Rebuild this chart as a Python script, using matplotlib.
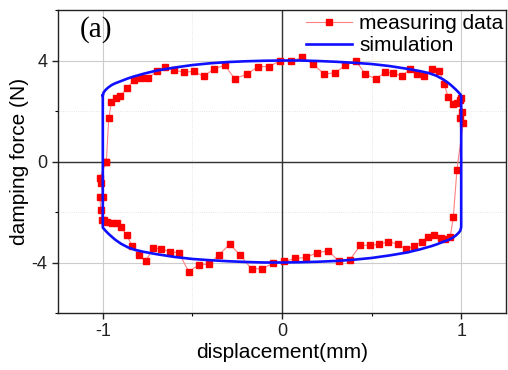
import matplotlib
matplotlib.use("Agg")
import matplotlib.pyplot as plt
from matplotlib.lines import Line2D
from matplotlib.ticker import MultipleLocator

plt.rcParams['font.family'] = ['Liberation Sans', 'DejaVu Sans']

meas_x = [-0.98, -0.967, -0.952, -0.925, -0.902, -0.863, -0.826, -0.789, -0.746, -0.70,
          -0.652, -0.60, -0.548, -0.493, -0.437, -0.378, -0.318, -0.265, -0.198, -0.133,
          -0.072, -0.013, 0.05, 0.113, 0.174, 0.237, 0.298, 0.354, 0.413, 0.465,
          0.524, 0.576, 0.622, 0.668, 0.715, 0.756, 0.794, 0.835, 0.878, 0.904,
          0.929, 0.956, 0.976, 0.993, 0.998, 1.006, 0.993, 1.011, 0.976, 0.956,
          0.939, 0.909, 0.885, 0.85, 0.817, 0.779, 0.737, 0.693, 0.646, 0.594,
          0.543, 0.489, 0.437, 0.378, 0.317, 0.257, 0.196, 0.135, 0.072, 0.013,
          -0.05, -0.109, -0.17, -0.233, -0.292, -0.354, -0.409, -0.465, -0.52, -0.576,
          -0.626, -0.674, -0.718, -0.761, -0.80, -0.835, -0.867, -0.896, -0.921, -0.951,
          -0.979, -0.994, -1.004, -1.011, -1.017, -0.998, -1.01, -1.017, -0.98]
meas_f = [0.0, 1.71, 2.35, 2.53, 2.60, 2.91, 3.24, 3.32, 3.30, 3.58,
          3.76, 3.61, 3.54, 3.57, 3.37, 3.68, 3.81, 3.28, 3.45, 3.76,
          3.76, 3.98, 3.98, 4.12, 3.85, 3.46, 3.52, 3.81, 3.98, 3.46,
          3.27, 3.54, 3.49, 3.39, 3.65, 3.46, 3.39, 3.65, 3.60, 3.06,
          2.54, 2.27, 2.30, 2.43, 2.50, 1.97, 1.71, 1.54, -0.35, -2.20,
          -2.98, -3.08, -3.02, -2.91, -2.98, -3.17, -3.35, -3.48, -3.28, -3.17,
          -3.28, -3.32, -3.32, -3.90, -3.94, -3.54, -3.61, -3.80, -3.84, -3.96,
          -4.03, -4.24, -4.26, -3.70, -3.28, -3.71, -4.07, -4.09, -4.37, -3.61,
          -3.58, -3.45, -3.44, -3.94, -3.70, -3.35, -2.93, -2.60, -2.43, -2.43,
          -2.39, -2.30, -2.32, -1.93, -1.40, -1.40, -0.85, -0.66, 0.0]

# simulated loop: upper branch left->right, lower branch right->left
sim_x = [-1.0, -0.995, -0.985, -0.97, -0.95, -0.93, -0.9, -0.86, -0.83, -0.77,
         -0.7, -0.6, -0.5, -0.4, -0.3, -0.2, -0.1, 0.0, 0.1, 0.2,
         0.3, 0.4, 0.5, 0.6, 0.7, 0.77, 0.82, 0.86, 0.9, 0.93,
         0.95, 0.97, 0.985, 0.995, 1.0,
         1.0, 0.995, 0.985, 0.97, 0.95, 0.93, 0.9, 0.86, 0.83, 0.77,
         0.7, 0.6, 0.5, 0.4, 0.3, 0.2, 0.1, 0.0, -0.1, -0.2,
         -0.3, -0.4, -0.5, -0.6, -0.7, -0.77, -0.82, -0.86, -0.9, -0.93,
         -0.95, -0.97, -0.985, -0.995, -1.0, -1.0]
sim_f = [2.62, 2.74, 2.83, 2.93, 3.03, 3.10, 3.18, 3.29, 3.36, 3.48,
         3.60, 3.72, 3.82, 3.89, 3.94, 3.97, 3.99, 4.0, 4.0, 3.98,
         3.95, 3.91, 3.86, 3.78, 3.67, 3.58, 3.50, 3.40, 3.25, 3.10,
         2.98, 2.85, 2.74, 2.66, 2.6,
         -2.6, -2.74, -2.83, -2.93, -3.03, -3.10, -3.18, -3.29, -3.36, -3.48,
         -3.60, -3.72, -3.82, -3.89, -3.94, -3.97, -3.99, -4.0, -4.0, -3.98,
         -3.95, -3.91, -3.86, -3.78, -3.67, -3.58, -3.50, -3.40, -3.25, -3.10,
         -2.98, -2.85, -2.74, -2.66, -2.62, 2.62]

fig = plt.figure(figsize=(5.08, 3.70), dpi=100)
ax = fig.add_axes([58 / 508, 1 - 313 / 370, 448 / 508, 303 / 370])

ax.set_xlim(-1.25, 1.25)
ax.set_ylim(-6, 6)
ax.xaxis.set_major_locator(MultipleLocator(1))
ax.xaxis.set_minor_locator(MultipleLocator(0.5))
ax.yaxis.set_major_locator(MultipleLocator(4))
ax.yaxis.set_minor_locator(MultipleLocator(2))

ax.grid(which='major', color='#cccccc', lw=0.8)
ax.grid(which='minor', color='#dddddd', lw=0.6, ls=':')
ax.axhline(0, color='#333333', lw=1.0, zorder=1)
ax.axvline(0, color='#333333', lw=1.0, zorder=1)
ax.set_axisbelow(True)

ax.plot(meas_x, meas_f, color='#ff8080', lw=0.8, marker='s', ms=4.2,
        mfc='#ff0000', mec='#ff0000', zorder=3)
ax.plot(sim_x, sim_f, color='#1010ff', lw=1.9, zorder=4)

for s in ax.spines.values():
    s.set_color('#222222')
    s.set_linewidth(1.0)
ax.tick_params(which='major', direction='out', length=4, width=1, labelsize=13, colors='#222222')
ax.tick_params(which='minor', direction='out', length=2.5, width=0.8)
ax.set_xticks([-1, 0, 1])
ax.set_xticklabels(['-1', '0', '1'])
ax.set_yticks([-4, 0, 4])
ax.set_yticklabels(['-4', '0', '4'])

ax.set_xlabel('displacement(mm)', fontsize=15, labelpad=2)
ax.set_ylabel('damping force (N)', fontsize=15, labelpad=2)

fig.text(80 / 508, 1 - 30 / 370, '(a)', family=['Liberation Serif', 'DejaVu Serif'],
         fontsize=21, ha='left', va='center')

handles = [Line2D([], [], color='#ff8080', lw=0.8, marker='s', ms=4.2,
                  mfc='#ff0000', mec='#ff0000'),
           Line2D([], [], color='#1010ff', lw=1.9)]
fig.legend(handles, ['measuring data', 'simulation'], loc='upper left',
           bbox_to_anchor=(306 / 508, 1 - 14 / 370), bbox_transform=fig.transFigure,
           frameon=False, fontsize=15, numpoints=1, handlelength=2.2,
           handletextpad=0.35, labelspacing=0.15, borderpad=0, borderaxespad=0)

fig.savefig('out.png', dpi=100)
